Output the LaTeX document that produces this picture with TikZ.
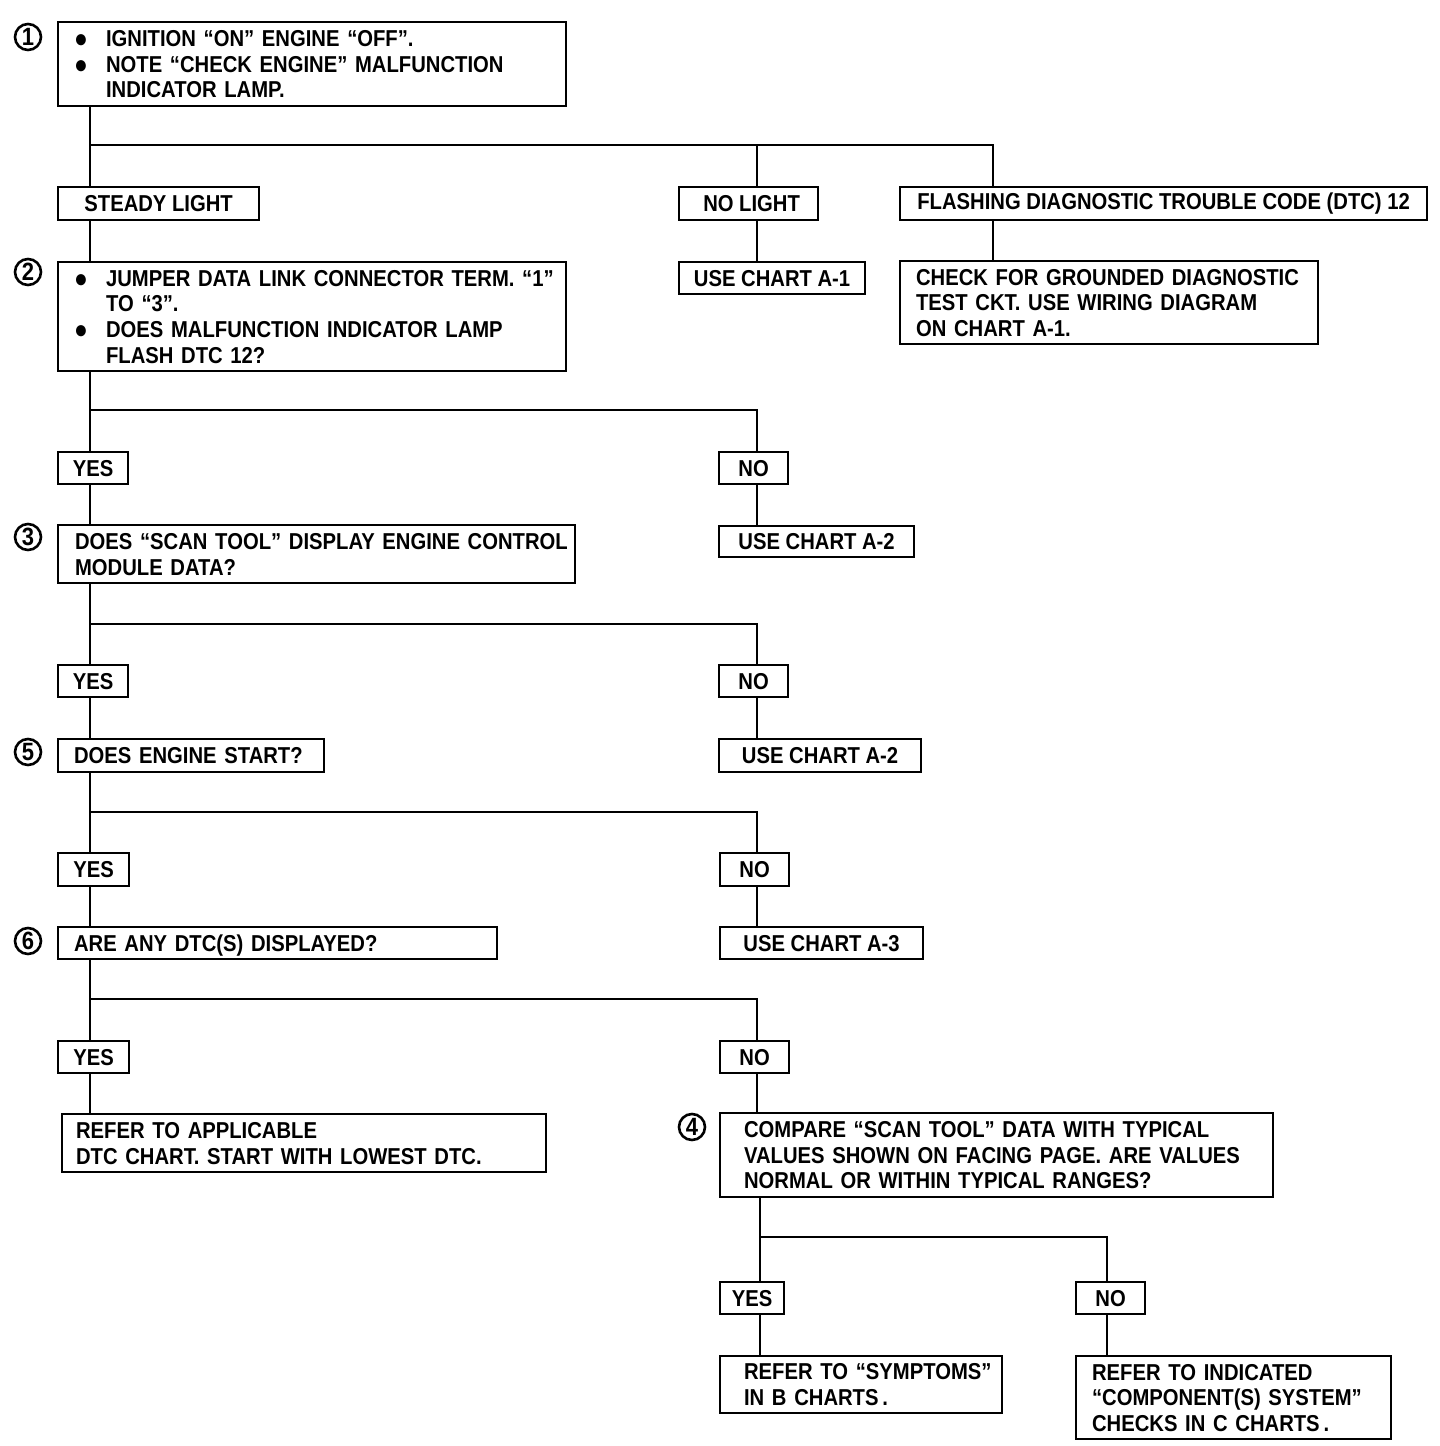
\documentclass[tikz,border=0pt]{standalone}
\usepackage{fontspec}
\usepackage{calc}
\usepackage{tikz}
\newfontfamily\flowfont{Liberation Sans Bold}[FakeStretch=0.88]
\newcommand\flowtext{\flowfont\fontsize{11.5pt}{12.8pt}\selectfont}
\newcommand\itm{\makebox[16pt][l]{\raisebox{-0.6pt}{\fontsize{13pt}{13pt}\selectfont ●}}}
\newcommand\rows[1]{\raisebox{0pt}[\height][\depth-3pt]{\begin{tabular}{@{}l@{}}#1\end{tabular}}}

\begin{document}
\begin{tikzpicture}[x=0.5pt,y=-0.5pt,
  box/.style={rectangle,draw=black,line width=1.1pt,anchor=north west,font=\flowtext},
  info/.style n args={3}{box,align=left,text width=#1,inner xsep=#2,inner ysep=0pt,minimum height=#3},
  tag/.style 2 args={box,inner sep=0pt,minimum width=#1,minimum height=#2},
  num/.style={circle,draw=black,line width=1.3pt,inner sep=0pt,minimum size=13pt,font=\flowfont\fontsize{12.5pt}{13pt}\selectfont},
  conn/.style={line width=1.1pt}
  ]
  \useasboundingbox (0,0) rectangle (1440,1446);

  % step 1 and its three outcomes
  \node[info={238pt}{8pt}{42pt}] (b1) at (57,21) {\rows{\itm IGNITION “ON” ENGINE “OFF”.\\ \itm NOTE “CHECK ENGINE” MALFUNCTION\\ \hspace*{16pt}INDICATOR LAMP.}};
  \node[tag={100.5pt}{16.5pt}] (steady) at (57,186) {STEADY LIGHT};
  \node[tag={69.5pt}{16.5pt}] (nolight) at (678,186) {\hspace*{3pt}NO LIGHT};
  \node[tag={263.5pt}{16.5pt}] (flash) at (899,186) {FLASHING DIAGNOSTIC TROUBLE CODE (DTC) 12};
  \node[tag={93pt}{16pt}] (useA1) at (678,261) {USE CHART A-1};
  \node[info={193pt}{8pt}{41.5pt}] (ground) at (899,260) {\rows{CHECK FOR GROUNDED DIAGNOSTIC\\ TEST CKT. USE WIRING DIAGRAM\\ ON CHART A-1.}};

  % step 2
  \node[info={238pt}{8pt}{54.5pt}] (b2) at (57,261) {\rows{\itm JUMPER DATA LINK CONNECTOR TERM. “1”\\ \hspace*{16pt}TO “3”.\\ \itm DOES MALFUNCTION INDICATOR LAMP\\ \hspace*{16pt}FLASH DTC 12?}};
  \node[tag={35pt}{16pt}] (yes2) at (57,451) {YES};
  \node[tag={34.5pt}{16pt}] (no2) at (718,451) {NO};
  \node[tag={97.5pt}{15.5pt}] (useA2a) at (718,525) {USE CHART A-2};

  % step 3
  \node[info={241.5pt}{8.5pt}{29pt}] (b3) at (57,524) {\rows{DOES “SCAN TOOL” DISPLAY ENGINE CONTROL\\ MODULE DATA?}};
  \node[tag={35pt}{16pt}] (yes3) at (57,664) {YES};
  \node[tag={34.5pt}{16pt}] (no3) at (718,664) {NO};
  \node[tag={101pt}{16.5pt}] (useA2b) at (718,738) {USE CHART A-2};

  % step 5
  \node[info={117pt}{8pt}{16.5pt}] (b5) at (57,738) {\rows{DOES ENGINE START?}};
  \node[tag={35.5pt}{16.5pt}] (yes5) at (57,852) {YES};
  \node[tag={34.5pt}{16.5pt}] (no5) at (719,852) {NO};
  \node[tag={101.5pt}{16pt}] (useA3) at (719,926) {USE CHART A-3};

  % step 6
  \node[info={203.5pt}{8pt}{16pt}] (b6) at (57,926) {\rows{ARE ANY DTC(S) DISPLAYED?}};
  \node[tag={35.5pt}{16pt}] (yes6) at (57,1040) {YES};
  \node[tag={34.5pt}{16pt}] (no6) at (719,1040) {NO};
  \node[info={228pt}{7pt}{29pt}] (refdtc) at (61,1113) {\rows{REFER TO APPLICABLE\\ DTC CHART. START WITH LOWEST DTC.}};

  % step 4
  \node[info={252.5pt}{12pt}{42pt}] (b4) at (719,1112) {\rows{COMPARE “SCAN TOOL” DATA WITH TYPICAL\\ VALUES SHOWN ON FACING PAGE. ARE VALUES\\ NORMAL OR WITHIN TYPICAL RANGES?}};
  \node[tag={32pt}{16pt}] (yes4) at (719,1281) {YES};
  \node[tag={34.5pt}{16pt}] (no4) at (1075,1281) {NO};
  \node[info={117pt}{12pt}{28.5pt}] (symp) at (719,1355) {\rows{REFER TO “SYMPTOMS”\\ IN B CHARTS\,.}};
  \node[info={141.5pt}{8pt}{41.5pt}] (comp) at (1075,1355) {\rows{REFER TO INDICATED\\ “COMPONENT(S) SYSTEM”\\ CHECKS IN C CHARTS\,.}};

  % circled step numbers
  \node[num] (n1) at ([xshift=-14.5pt,yshift=-8pt]b1.north west) {1};
  \node[num] (n2) at ([xshift=-14.5pt,yshift=-5.5pt]b2.north west) {2};
  \node[num] (n3) at ([xshift=-14.5pt,yshift=-6.5pt]b3.north west) {3};
  \node[num] (n5) at ([xshift=-14.5pt,yshift=-7pt]b5.north west) {5};
  \node[num] (n6) at ([xshift=-14.5pt,yshift=-7.5pt]b6.north west) {6};
  \node[num] (n4) at ([xshift=-13.5pt,yshift=-7.5pt]b4.north west) {4};

  % columns and branch points
  \coordinate (colA) at (90,0);
  \coordinate (colB) at (757,0);
  \coordinate (colC) at (993,0);
  \coordinate (colD) at (760,0);
  \coordinate (colE) at (1107,0);
  \coordinate (s1) at (90,145);
  \coordinate (s2) at (90,410);
  \coordinate (s3) at (90,624);
  \coordinate (s5) at (90,812);
  \coordinate (s6) at (90,999);
  \coordinate (s4) at (760,1237);

  \draw[conn] (b1.south -| colA) -- (steady.north -| colA);
  \draw[conn] (s1) -| (flash.north -| colC);
  \draw[conn] (s1 -| colB) -- (nolight.north -| colB);
  \draw[conn] (nolight.south -| colB) -- (useA1.north -| colB);
  \draw[conn] (flash.south -| colC) -- (ground.north -| colC);

  \draw[conn] (steady.south -| colA) -- (b2.north -| colA);
  \draw[conn] (b2.south -| colA) -- (yes2.north -| colA);
  \draw[conn] (s2) -| (no2.north -| colB);
  \draw[conn] (no2.south -| colB) -- (useA2a.north -| colB);

  \draw[conn] (yes2.south -| colA) -- (b3.north -| colA);
  \draw[conn] (b3.south -| colA) -- (yes3.north -| colA);
  \draw[conn] (s3) -| (no3.north -| colB);
  \draw[conn] (no3.south -| colB) -- (useA2b.north -| colB);

  \draw[conn] (yes3.south -| colA) -- (b5.north -| colA);
  \draw[conn] (b5.south -| colA) -- (yes5.north -| colA);
  \draw[conn] (s5) -| (no5.north -| colB);
  \draw[conn] (no5.south -| colB) -- (useA3.north -| colB);

  \draw[conn] (yes5.south -| colA) -- (b6.north -| colA);
  \draw[conn] (b6.south -| colA) -- (yes6.north -| colA);
  \draw[conn] (s6) -| (no6.north -| colB);
  \draw[conn] (yes6.south -| colA) -- (refdtc.north -| colA);
  \draw[conn] (no6.south -| colB) -- (b4.north -| colB);

  \draw[conn] (b4.south -| colD) -- (yes4.north -| colD);
  \draw[conn] (s4) -| (no4.north -| colE);
  \draw[conn] (yes4.south -| colD) -- (symp.north -| colD);
  \draw[conn] (no4.south -| colE) -- (comp.north -| colE);
\end{tikzpicture}
\end{document}
